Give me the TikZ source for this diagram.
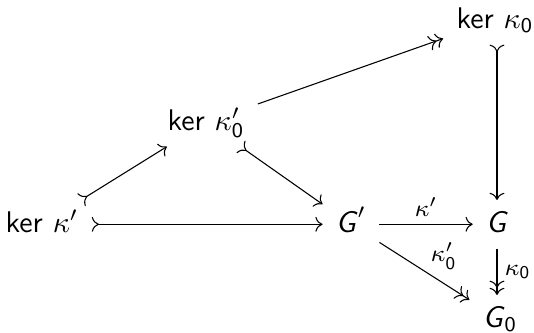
\documentclass[tikz,border=0pt]{standalone}
\usetikzlibrary{arrows.meta}
\begin{document}
\begin{tikzpicture}[x=0.335pt,y=-0.335pt, line width=0.36pt,
  cell/.style={anchor=base, inner xsep=1ex, inner ysep=0.85ex, font=\sffamily, text height=1.6ex, text depth=0.4ex},
  mono/.style={{Computer Modern Rightarrow[reversed]}-{Computer Modern Rightarrow}},
  epi/.style={-{Computer Modern Rightarrow[]Computer Modern Rightarrow}},
  arr/.style={-{Computer Modern Rightarrow}},
  lab/.style={font=\footnotesize, inner sep=2.5pt}]
\useasboundingbox (0,0) rectangle (534,332);
\node[cell] (A) at (42,232) {ker $\kappa'$};
\node[cell] (B) at (206,130) {ker $\kappa'_{\mathsf{0}}$};
\node[cell] (C) at (495,28) {ker $\kappa_{\mathsf{0}}$};
\node[cell] (Gp) at (351,232) {$\textsf{\textit{G}}'$};
\node[cell] (G) at (497,232) {\textit{G}};
\node[cell] (G0) at (500,327) {\textit{G}$_{\mathsf{0}}$};
\draw[mono] (A) -- (B);
\draw[mono] (B) -- (Gp);
\draw[epi] (B) -- (C);
\draw[mono] (C.south -| G) -- (G);
\draw[mono] (A) -- (Gp);
\draw[arr] (Gp) -- node[lab, above] {$\kappa'$} (G);
\draw[epi] (Gp) -- node[lab, anchor=west, inner sep=2pt, yshift=5pt] {$\kappa'_{\mathsf{0}}$} (G0);
\draw[epi] (G) -- node[lab, right] {$\kappa_{\mathsf{0}}$} (G0.north -| G);
\end{tikzpicture}
\end{document}
